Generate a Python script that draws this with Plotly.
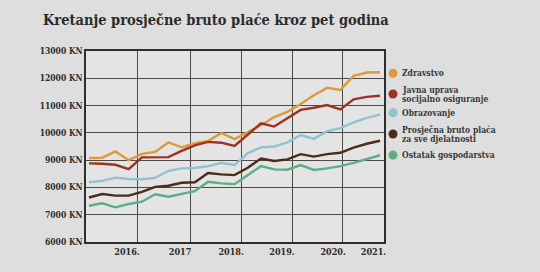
import plotly.graph_objects as go

# ---- data ----
periods = list(range(23))  # evenly spaced observations
zdravstvo = [9080, 9090, 9320, 9000, 9230, 9300, 9650, 9470, 9620, 9700, 10000, 9770,
             10020, 10280, 10580, 10770, 11060, 11380, 11650, 11570, 12090, 12210, 12220]
javna_uprava = [8880, 8870, 8830, 8670, 9100, 9110, 9110, 9340, 9540, 9670, 9640, 9520,
                9950, 10350, 10230, 10520, 10840, 10920, 11020, 10860, 11230, 11320, 11360]
obrazovanje = [8190, 8240, 8360, 8310, 8300, 8350, 8610, 8700, 8710, 8780, 8900, 8820,
               9250, 9470, 9500, 9650, 9920, 9780, 10060, 10170, 10380, 10550, 10670]
prosjecna = [7630, 7760, 7700, 7700, 7840, 8020, 8060, 8170, 8190, 8530, 8480, 8450,
             8720, 9060, 8970, 9030, 9220, 9130, 9220, 9270, 9460, 9600, 9710]
ostatak = [7330, 7418, 7272, 7393, 7477, 7748, 7660, 7760, 7860, 8210, 8150, 8120,
           8450, 8780, 8660, 8650, 8820, 8640, 8700, 8780, 8900, 9030, 9180]

series_names = [["Zdravstvo"], ["Javna uprava", "socijalno osiguranje"], ["Obrazovanje"],
                ["Prosječna bruto plaća", "za sve djelatnosti"], ["Ostatak gospodarstva"]]
series_values = [zdravstvo, javna_uprava, obrazovanje, prosjecna, ostatak]

year_labels = ["2016.", "2017", "2018.", "2019.", "2020.", "2021."]

# ---- styling / layout ----
colors = ["#dc9a3c", "#9c3222", "#8fc3d0", "#4a2c18", "#5cae84"]
label_pos = [2.87, 6.88, 10.74, 14.59, 18.45, 21.5]
grid_pos = [3.70, 7.64, 11.49, 15.35, 19.20]
serif = "DejaVu Serif Condensed, DejaVu Serif, serif"

W, H = 540, 272
L, R, T, B = 86, 156, 51, 30
pw, ph = W - L - R, H - T - B


def px_x(x):
    return (x - L) / pw


def px_y(y):
    return (H - B - y) / ph


# legend placement (pixels)
dot_x = 393
text_x = 400
dot_y = [73.3, 94, 112.7, 134, 155]
line_y = [[73.3], [89.5, 98.5], [112.7], [129.5, 138.5], [155]]

fig = go.Figure()
for vals, col in zip(series_values, colors):
    fig.add_trace(go.Scatter(x=periods, y=vals, mode="lines",
                             line=dict(color=col, width=2.4),
                             showlegend=False, hoverinfo="skip"))

annotations = []
shapes = []
for lines, col, dy, ly in zip(series_names, colors, dot_y, line_y):
    shapes.append(dict(type="circle", xref="paper", yref="paper",
                       xsizemode="pixel", ysizemode="pixel",
                       xanchor=px_x(dot_x), yanchor=px_y(dy),
                       x0=-4.5, x1=4.5, y0=-4.5, y1=4.5,
                       fillcolor=col, line=dict(width=0)))
    for txt, yy in zip(lines, ly):
        annotations.append(dict(text=txt, xref="paper", yref="paper",
                                x=px_x(text_x), y=px_y(yy),
                                xanchor="left", yanchor="middle", showarrow=False,
                                font=dict(family=serif, size=8.5, color="#383838",
                                          weight="bold")))

fig.update_layout(
    width=W, height=H,
    margin=dict(l=L, r=R, t=T, b=B),
    paper_bgcolor="#dedede",
    plot_bgcolor="#e4e4e4",
    showlegend=False,
    title=dict(text="<b>Kretanje prosječne bruto plaće kroz pet godina</b>",
               font=dict(family=serif, size=14.5, color="#2b2b2b"),
               x=43/W, xanchor="left", xref="container",
               y=1-20/H, yanchor="middle", yref="container"),
    annotations=annotations,
    shapes=shapes,
    xaxis=dict(range=[-0.227, 22.30], tickmode="array", tickvals=label_pos,
               ticktext=year_labels, showgrid=False, zeroline=False,
               showline=True, linecolor="#2e2e2e", linewidth=1.5, mirror=True,
               ticks="", tickfont=dict(family=serif, size=9, color="#2b2b2b", weight="bold"),
               minor=dict(tickmode="array", tickvals=grid_pos, showgrid=True,
                          gridcolor="#4a4a4a", gridwidth=1, ticks="")),
    yaxis=dict(range=[6000, 13000], dtick=1000, ticksuffix=" KN", tickformat="d",
               showgrid=True, gridcolor="#4a4a4a", gridwidth=1, zeroline=False,
               showline=True, linecolor="#2e2e2e", linewidth=1.5, mirror=True,
               ticks="", tickfont=dict(family=serif, size=8.5, color="#2b2b2b", weight="bold")),
)

fig.write_html("out.html")
